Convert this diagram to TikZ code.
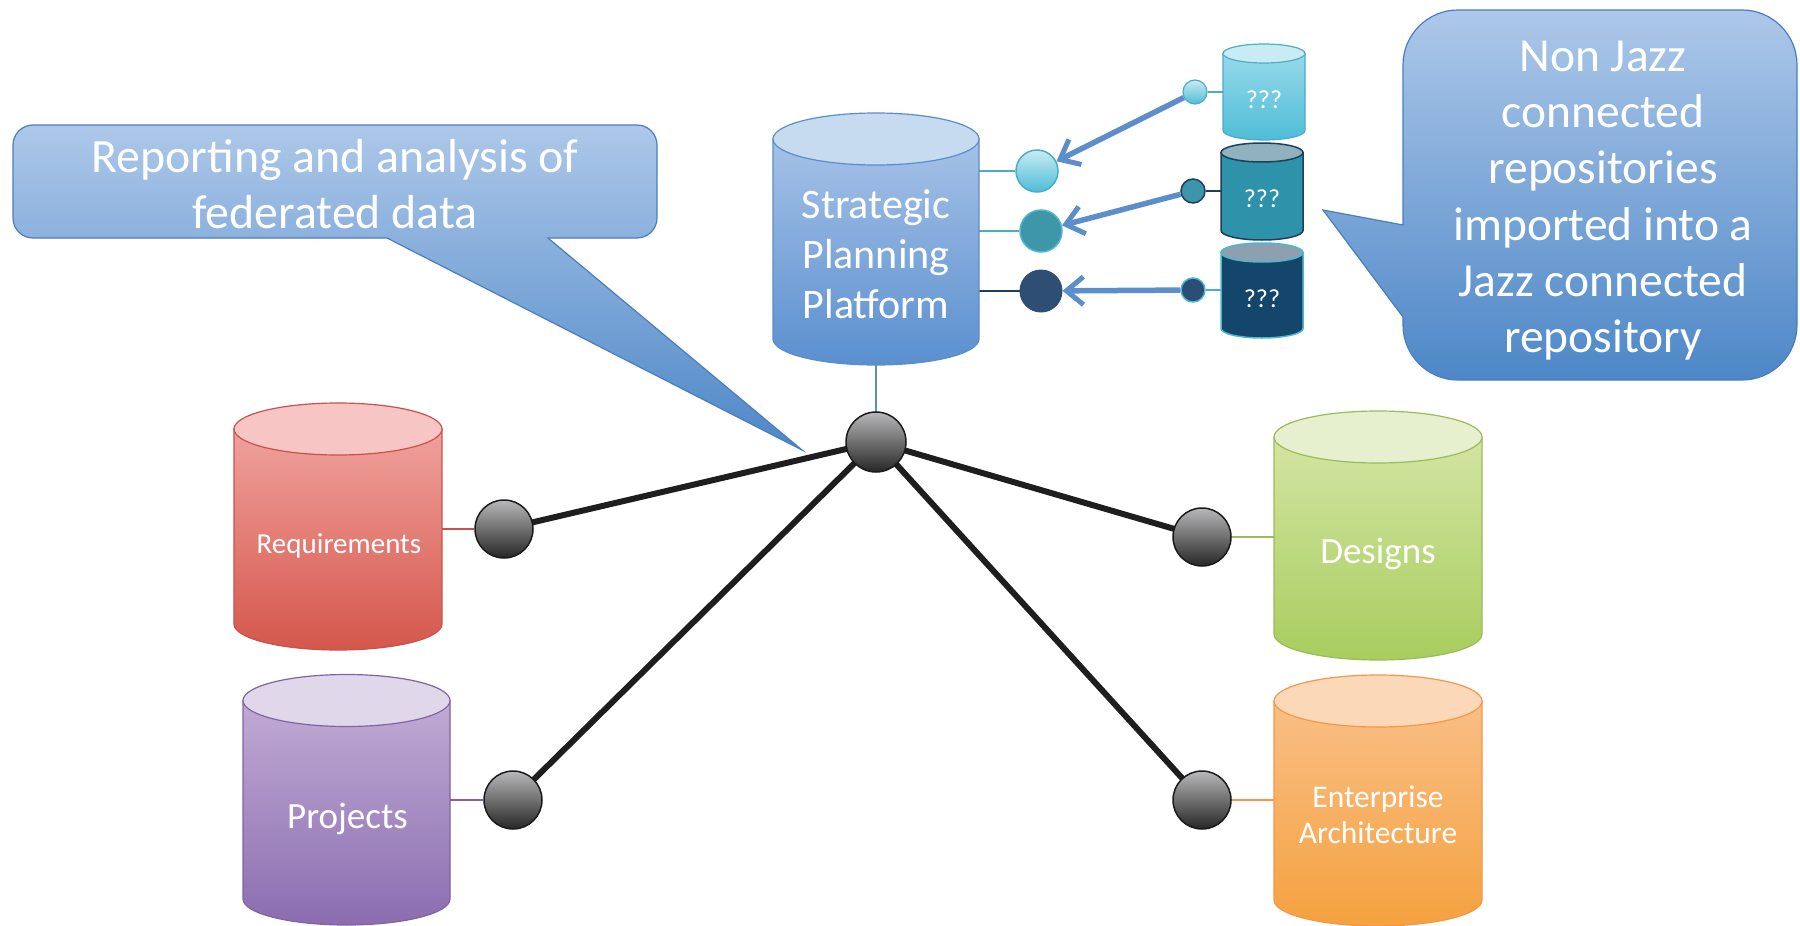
\documentclass[tikz,border=0pt]{standalone}
\usepackage{fontspec}
\setmainfont{Carlito}
\usetikzlibrary{arrows.meta}
\pgfdeclarelayer{bg}
\pgfsetlayers{bg,main}

\definecolor{callT}{HTML}{ADC8E9}
\definecolor{callB}{HTML}{4D87C7}
\definecolor{callL}{HTML}{4A7EBB}
\definecolor{sppTE}{HTML}{C6DAF0}
\definecolor{sppBT}{HTML}{A6C2E7}
\definecolor{sppBB}{HTML}{5A8FCF}
\definecolor{sppL}{HTML}{5B8DC8}
\definecolor{reqTE}{HTML}{F7C6C4}
\definecolor{reqBT}{HTML}{F0A19C}
\definecolor{reqBB}{HTML}{D5574C}
\definecolor{reqL}{HTML}{C9504C}
\definecolor{projTE}{HTML}{E0D7EA}
\definecolor{projBT}{HTML}{C0ABD4}
\definecolor{projBB}{HTML}{8B6DB0}
\definecolor{projL}{HTML}{8064A2}
\definecolor{desTE}{HTML}{E6F0CE}
\definecolor{desBT}{HTML}{D3E5A3}
\definecolor{desBB}{HTML}{A8CD5E}
\definecolor{desL}{HTML}{9BBB59}
\definecolor{eaTE}{HTML}{FBD9B8}
\definecolor{eaBT}{HTML}{F9BF86}
\definecolor{eaBB}{HTML}{F5A13F}
\definecolor{eaL}{HTML}{F79646}
\definecolor{rOneTE}{HTML}{C8EBF4}
\definecolor{rOneBT}{HTML}{97D9EA}
\definecolor{rOneBB}{HTML}{4EBDD7}
\definecolor{rOneL}{HTML}{4BACC6}
\definecolor{rTwoTE}{HTML}{8FB2BE}
\definecolor{rTwoB}{HTML}{2E92AA}
\definecolor{rTwoL}{HTML}{1F3E5C}
\definecolor{rThreeTE}{HTML}{8E9FAF}
\definecolor{rThreeB}{HTML}{14466B}
\definecolor{rThreeL}{HTML}{4BB8D0}
\definecolor{bTwoF}{HTML}{3E96A9}
\definecolor{bThreeF}{HTML}{2E4E74}
\definecolor{sTwoF}{HTML}{3D95A9}
\definecolor{sThreeF}{HTML}{2A4E74}
\definecolor{ballT}{HTML}{B8B8BA}
\definecolor{ballB}{HTML}{262626}
\definecolor{ballL}{HTML}{1A1A1A}
\definecolor{arrowC}{HTML}{5B8ECB}
\definecolor{hubC}{HTML}{1E1E1E}

% cylinder: name, cx, top-centre y, bottom-centre y, rx, ry, body style, top style
\newcommand\dbcyl[8]{%
  \path[#7] (#2-#5,#3) -- (#2-#5,#4)
     arc[start angle=180,end angle=360,x radius=#5pt,y radius=#6pt]
     -- (#2+#5,#3) -- cycle;
  \path[#8] (#2,#3) ellipse [x radius=#5pt, y radius=#6pt];
  \node[inner sep=0pt, minimum width={2*#5pt}, minimum height={(#4-#3)*1pt}] (#1) at (#2,{(#3+#4)/2}) {};
}

\tikzset{
  callout/.style={top color=callT, bottom color=callB, draw=callL, line width=1.2pt},
  lbl/.style={text=white, inner sep=0pt, anchor=base},
  gball/.style={circle, inner sep=0pt, minimum size=58pt, top color=ballT, bottom color=ballB, draw=ballL, line width=1.5pt},
  hubline/.style={draw=hubC, line width=6pt},
  imparrow/.style={draw=arrowC, line width=5.5pt, -{Straight Barb[length=17pt,width=28pt,line width=5pt]}},
}

\begin{document}
\begin{tikzpicture}[x=1pt,y=-1pt]
\useasboundingbox (0,0) rectangle (1800,926);

% ---- callouts ----
\path[callout] (33,125) -- (637,125) arc[start angle=90,end angle=0,radius=20pt]
  -- (657,218) arc[start angle=0,end angle=-90,radius=20pt]
  -- (548,238) -- (802,450) -- (387,238)
  -- (33,238) arc[start angle=270,end angle=180,radius=20pt]
  -- (13,145) arc[start angle=180,end angle=90,radius=20pt] -- cycle;
\node[lbl, font=\fontsize{47.8}{56}\selectfont] (leftnote) at (335,172)
  {\begin{tabular}[t]{@{}c@{}}Reporting and analysis of\\federated data\end{tabular}};

\path[callout] (1458,10) -- (1742,10) arc[start angle=90,end angle=0,radius=55pt]
  -- (1797,325) arc[start angle=0,end angle=-90,radius=55pt]
  -- (1458,380) arc[start angle=270,end angle=180,radius=55pt]
  -- (1403,317) -- (1323,210) -- (1403,225)
  -- (1403,65) arc[start angle=180,end angle=90,radius=55pt] -- cycle;
\node[lbl, font=\fontsize{47.5}{56.4}\selectfont] (rightnote) at (1603,71)
  {\begin{tabular}[t]{@{}c@{}}Non Jazz\\connected\\repositories\\imported into a\\Jazz connected\\repository\end{tabular}};

% ---- cylinders ----
\dbcyl{spp}{876}{139}{339}{103}{26}{top color=sppBT,bottom color=sppBB,draw=sppL,line width=1.2pt}{fill=sppTE,draw=sppL,line width=1.2pt}
\node[lbl, font=\fontsize{42}{50}\selectfont] (spptext) at (876,218)
  {\begin{tabular}[t]{@{}c@{}}Strategic\\Planning\\Platform\end{tabular}};

\dbcyl{req}{338}{429}{624}{104}{26}{top color=reqBT,bottom color=reqBB,draw=reqL,line width=1.2pt}{fill=reqTE,draw=reqL,line width=1.2pt}
\node[lbl, font=\fontsize{29}{35}\selectfont] (reqtext) at (339,553) {Requirements};

\dbcyl{proj}{346.5}{700.5}{899}{103.5}{26}{top color=projBT,bottom color=projBB,draw=projL,line width=1.2pt}{fill=projTE,draw=projL,line width=1.2pt}
\node[lbl, font=\fontsize{37}{44}\selectfont] (projtext) at (347.5,828) {Projects};

\dbcyl{des}{1378}{437}{634}{104}{26}{top color=desBT,bottom color=desBB,draw=desL,line width=1.2pt}{fill=desTE,draw=desL,line width=1.2pt}
\node[lbl, font=\fontsize{37}{44}\selectfont] (destext) at (1378,563) {Designs};

\dbcyl{ea}{1378}{701}{900}{104}{26}{top color=eaBT,bottom color=eaBB,draw=eaL,line width=1.2pt}{fill=eaTE,draw=eaL,line width=1.2pt}
\node[lbl, font=\fontsize{31.5}{36}\selectfont] (eatext) at (1378,807)
  {\begin{tabular}[t]{@{}c@{}}Enterprise\\Architecture\end{tabular}};

\dbcyl{rone}{1264}{53.5}{130.5}{41}{9.5}{top color=rOneBT,bottom color=rOneBB,draw=rOneL,line width=1.2pt}{fill=rOneTE,draw=rOneL,line width=1.2pt}
\node[lbl, font=\fontsize{26}{31}\selectfont] (ronetext) at (1264,108) {???};
\dbcyl{rtwo}{1262}{152.5}{230.5}{41}{9.5}{fill=rTwoB,draw=rTwoL,line width=1.5pt}{fill=rTwoTE,draw=rTwoL,line width=1.5pt}
\node[lbl, font=\fontsize{26}{31}\selectfont] (rtwotext) at (1262,207) {???};
\dbcyl{rthree}{1262}{252.5}{328.5}{41}{9.5}{fill=rThreeB,draw=rThreeL,line width=1.5pt}{fill=rThreeTE,draw=rThreeL,line width=1.5pt}
\node[lbl, font=\fontsize{26}{31}\selectfont] (rthreetext) at (1262,307) {???};

% ---- balls ----
\node[gball, minimum size=60pt] (hub) at (876,442) {};
\node[gball] (reqball) at (504,529) {};
\node[gball] (projball) at (513,800) {};
\node[gball] (desball) at (1202,537) {};
\node[gball] (eaball) at (1202,800) {};

\node[circle, inner sep=0pt, minimum size=42pt, top color=rOneTE, bottom color=rOneBB, draw=rOneL, line width=1.5pt] (bone) at (1037,171) {};
\node[circle, inner sep=0pt, minimum size=42pt, fill=bTwoF, draw=rThreeL, line width=1.5pt] (btwo) at (1041,231) {};
\node[circle, inner sep=0pt, minimum size=42pt, fill=bThreeF, draw=bThreeF, line width=1pt] (bthree) at (1041,291) {};

\node[circle, inner sep=0pt, minimum size=24pt, top color=rOneTE, bottom color=rOneBB, draw=rOneL, line width=1.2pt] (sone) at (1195,92) {};
\node[circle, inner sep=0pt, minimum size=24pt, fill=sTwoF, draw=rTwoL, line width=1.5pt] (stwo) at (1193,191) {};
\node[circle, inner sep=0pt, minimum size=24pt, fill=sThreeF, draw=rThreeL, line width=1.5pt] (sthree) at (1193,290) {};

% ---- connectors (behind) ----
\begin{pgfonlayer}{bg}
  \draw[hubline] (hub.center) -- (reqball.center);
  \draw[hubline] (hub.center) -- (projball.center);
  \draw[hubline] (hub.center) -- (desball.center);
  \draw[hubline] (hub.center) -- (eaball.center);
  \draw[draw=sppL, line width=2pt] (hub.center) -- (hub.center |- spp.south);
  \draw[draw=reqL, line width=2pt] (reqball) -- (reqball -| req.east);
  \draw[draw=projL, line width=2pt] (projball) -- (projball -| proj.east);
  \draw[draw=desL, line width=2pt] (desball) -- (desball -| des.west);
  \draw[draw=eaL, line width=2pt] (eaball) -- (eaball -| ea.west);
  \draw[draw=rOneL, line width=2pt] (bone) -- (bone -| spp.east);
  \draw[draw=rOneL, line width=2pt] (btwo) -- (btwo -| spp.east);
  \draw[draw=rTwoL, line width=2pt] (bthree) -- (bthree -| spp.east);
  \draw[draw=rOneL, line width=2pt] (sone) -- (sone -| rone.west);
  \draw[draw=rTwoL, line width=2pt] (stwo) -- (stwo -| rtwo.west);
  \draw[draw=rOneL, line width=2pt] (sthree) -- (sthree -| rthree.west);
\end{pgfonlayer}
\draw[imparrow] (sone) -- (bone);
\draw[imparrow] (stwo) -- (btwo);
\draw[imparrow] (sthree) -- (bthree);
\end{tikzpicture}
\end{document}
